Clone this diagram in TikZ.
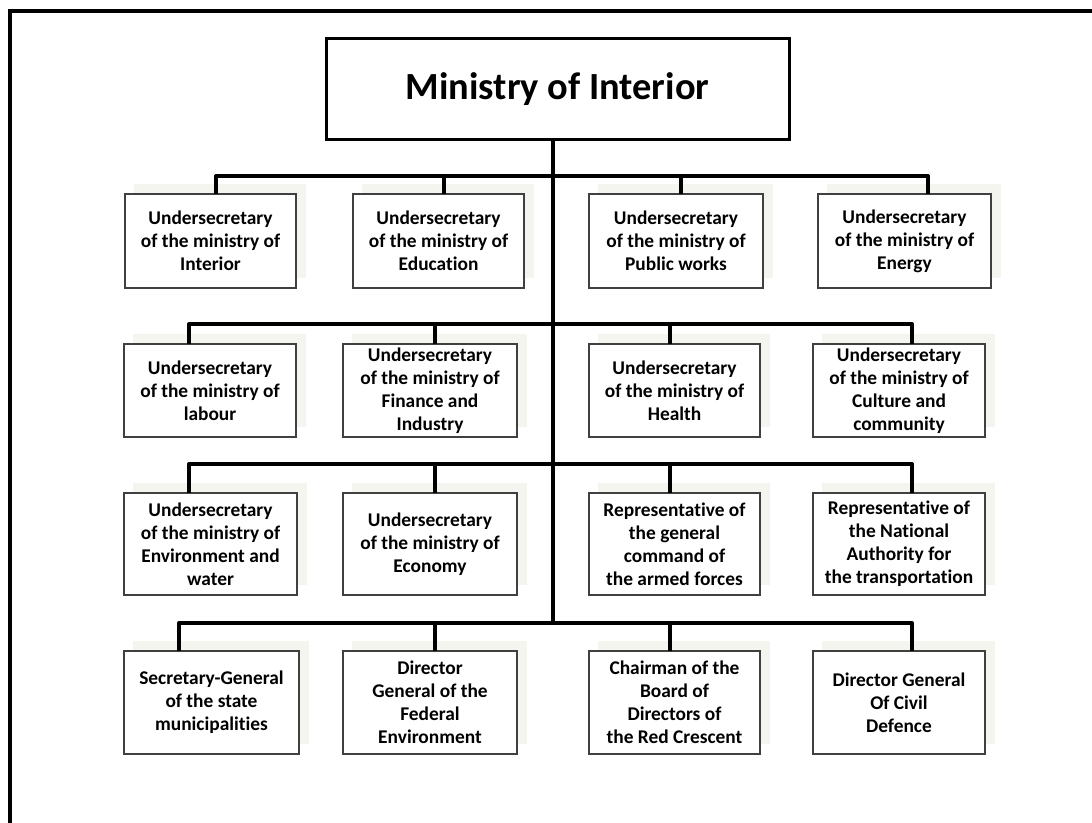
\documentclass[tikz,border=0pt]{standalone}
\usepackage{fontspec}
\setmainfont{Carlito}[Ligatures=NoCommon]
\usetikzlibrary{calc}

\definecolor{shadecol}{RGB}{245,245,239}

\tikzset{
  frameline/.style={line width=1.8pt, black},
  titlebox/.style={draw=black, line width=1.5pt, inner sep=0pt, outer sep=0pt,
    font=\fontsize{19.2}{23}\selectfont\bfseries},
  ubox/.style={draw=black!75, line width=0.75pt, fill=white, inner sep=0pt, outer sep=0pt,
    align=center, font=\fontsize{9.7}{11.5}\selectfont\bfseries},
  boxshade/.style={fill=shadecol},
  bus/.style={line width=2pt, black, line join=round, line cap=butt},
}

% \orgbox{name}{x1}{y1}{x2}{y2}{text}: framed box with a faint shade behind it
\newcommand{\orgbox}[6]{%
  \fill[boxshade] (#2+9,#3-10) rectangle (#4+10,#5-10);
  \node[ubox, minimum width={(#4-#2)*0.5pt}, minimum height={(#5-#3)*0.5pt}]
    (#1) at ({(#2+#4)/2},{(#3+#5)/2}) {#6};%
}

\begin{document}
\begin{tikzpicture}[x=0.5pt, y=-0.5pt]
  \useasboundingbox (0,0) rectangle (1092,823);
  \clip (0,0) rectangle (1092,823);

  % outer frame (runs off the page on the right and bottom)
  \draw[frameline] (10,840) -- (10,11) -- (1110,11);

  % head of the chart
  \node[titlebox, minimum width={463*0.5pt}, minimum height={101*0.5pt}]
    (head) at (557.5,89.5) {Ministry of Interior};

  % row 1
  \orgbox{b11}{125}{194}{296}{288}{Undersecretary\\of the ministry of\\Interior}
  \orgbox{b12}{353}{194}{524}{288}{Undersecretary\\of the ministry of\\Education}
  \orgbox{b13}{589}{194}{763}{288}{Undersecretary\\of the ministry of\\Public works}
  \orgbox{b14}{818}{194}{991}{288}{Undersecretary\\of the ministry of\\Energy}

  % row 2
  \orgbox{b21}{124}{344}{296}{437}{Undersecretary\\of the ministry of\\labour}
  \orgbox{b22}{343}{344}{517}{437}{Undersecretary\\of the ministry of\\Finance and\\Industry}
  \orgbox{b23}{589}{344}{760}{437}{Undersecretary\\of the ministry of\\Health}
  \orgbox{b24}{813}{344}{985}{437}{Undersecretary\\of the ministry of\\Culture and\\community}

  % row 3
  \orgbox{b31}{124}{493}{297}{595}{Undersecretary\\of the ministry of\\Environment and\\water}
  \orgbox{b32}{343}{493}{517}{595}{Undersecretary\\of the ministry of\\Economy}
  \orgbox{b33}{589}{493}{760}{595}{Representative of\\the general\\command of\\the armed forces}
  \orgbox{b34}{813}{493}{985}{595}{Representative of\\the National\\Authority for\\the transportation}

  % row 4
  \orgbox{b41}{124}{651}{299}{754}{Secretary-General\\of the state\\municipalities}
  \orgbox{b42}{343}{651}{517}{754}{Director\\General of the\\Federal\\Environment}
  \orgbox{b43}{589}{651}{760}{754}{Chairman of the\\Board of\\Directors of\\the Red Crescent}
  \orgbox{b44}{813}{651}{985}{754}{Director General\\Of Civil\\Defence}

  % junctions on the four horizontal buses
  \coordinate (j11) at (216,176);  \coordinate (j12) at (444,176);
  \coordinate (j13) at (681,176);  \coordinate (j14) at (928,176);
  \coordinate (j21) at (189,324);  \coordinate (j22) at (435,324);
  \coordinate (j23) at (670,324);  \coordinate (j24) at (912,324);
  \coordinate (j31) at (189,464);  \coordinate (j32) at (435,464);
  \coordinate (j33) at (670,464);  \coordinate (j34) at (912,464);
  \coordinate (j41) at (179,623);  \coordinate (j42) at (435,623);
  \coordinate (j43) at (670,623);  \coordinate (j44) at (912,623);

  % trunk from the head down to the last bus
  \coordinate (trunk) at (553,623);
  \draw[bus] (head.south -| trunk) -- (trunk);

  % buses with their end drops, then the inner drops
  \foreach \r in {1,2,3,4}{
    \draw[bus] (j\r1 |- b\r1.north) -- (j\r1) -- (j\r4) -- (j\r4 |- b\r4.north);
    \draw[bus] (j\r2) -- (j\r2 |- b\r2.north);
    \draw[bus] (j\r3) -- (j\r3 |- b\r3.north);
  }
\end{tikzpicture}
\end{document}
